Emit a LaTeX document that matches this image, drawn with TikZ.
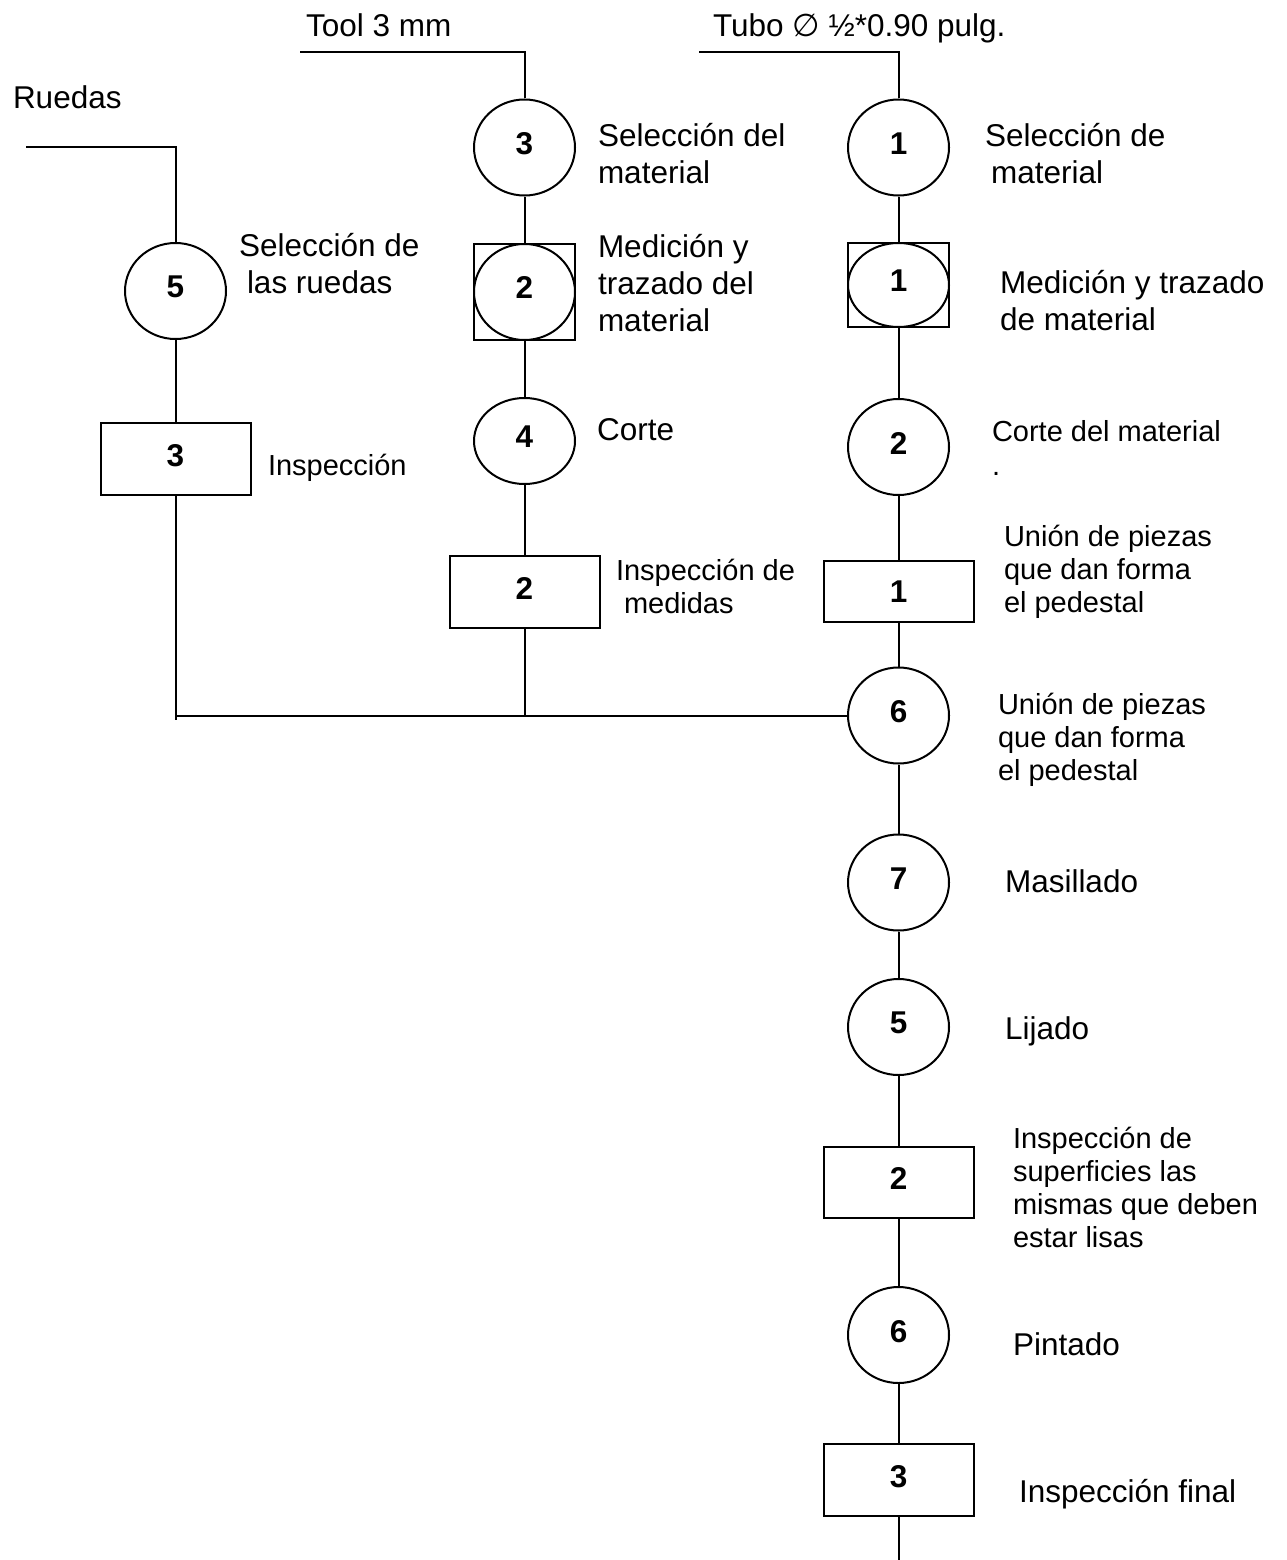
\documentclass[tikz,border=0pt]{standalone}
\usepackage{fontspec}
\setmainfont{Liberation Sans}
\newfontfamily\symfont{DejaVu Sans}
\usetikzlibrary{shapes.geometric}
\begin{document}
\begin{tikzpicture}[x=1pt,y=-1pt,line width=2pt,
  op/.style={ellipse,draw,minimum width=101pt,minimum height=96pt,inner sep=0pt,
    text depth=8pt,font=\fontsize{31.5}{36}\selectfont\bfseries},
  insp/.style={rectangle,draw,minimum width=150pt,minimum height=72pt,inner sep=0pt,
    text depth=8pt,font=\fontsize{31.5}{36}\selectfont\bfseries},
  frame/.style={rectangle,draw,minimum width=101pt,minimum height=96pt,inner sep=0pt},
  big/.style={anchor=base west,inner sep=0pt,align=left,font=\fontsize{31.5}{36.5}\selectfont},
  small/.style={anchor=base west,inner sep=0pt,align=left,font=\fontsize{29}{33}\selectfont}]
\fill[white] (0,0) rectangle (1287,1560);
\useasboundingbox (0,0) rectangle (1287,1560);

% --- wheels branch ---
\coordinate (r0) at (26,147);
\coordinate (r1) at (175.5,147);
\node[op] (c5a) at (175.5,291) {5};
\node[insp] (i3a) at (175.5,459) {3};
\coordinate (j1) at (175.5,715.5);
\coordinate (j1e) at (175.5,720);

% --- tool branch ---
\coordinate (t0) at (300,52);
\coordinate (t1) at (524.5,52);
\node[op] (c3b) at (524.5,147.5) {3};
\node[frame] (s2b) at (524.5,292) {};
\node[op] (c2b) at (524.5,292) {2};
\node[op,minimum height=86pt] (c4b) at (524.5,441) {4};
\node[insp] (i2b) at (524.5,592) {2};
\coordinate (j2) at (524.5,715.5);
\coordinate (j2e) at (524.5,717);

% --- tube branch (main line) ---
\coordinate (u0) at (699,52);
\coordinate (u1) at (898.5,52);
\node[op] (c1c) at (898.5,147.5) {1};
\node[frame,minimum height=84pt] (s1c) at (898.5,285) {};
\node[op,minimum height=84pt] (c1d) at (898.5,285) {1};
\node[op] (c2c) at (898.5,447) {2};
\node[insp,minimum height=61pt,text depth=0pt] (i1c) at (898.5,591.5) {1};
\node[op] (c6c) at (898.5,715.5) {6};
\node[op] (c7c) at (898.5,882.5) {7};
\node[op] (c5c) at (898.5,1027) {5};
\node[insp,minimum height=71pt] (i2c) at (898.5,1182.5) {2};
\node[op] (c6d) at (898.5,1335) {6};
\node[insp] (i3c) at (898.5,1480) {3};
\coordinate (fin) at (898.5,1560);

% connectors
\draw (r0) -- (r1) -- (c5a);
\draw (c5a) -- (i3a);
\draw (i3a) -- (j1e);
\draw (t0) -- (t1) -- (c3b);
\draw (c3b) -- (s2b);
\draw (s2b) -- (c4b);
\draw (c4b) -- (i2b);
\draw (i2b) -- (j2e);
\draw (j1) -- (c6c);
\draw (u0) -- (u1) -- (c1c);
\draw (c1c) -- (s1c);
\draw (s1c) -- (c2c);
\draw (c2c) -- (i1c);
\draw (i1c) -- (c6c);
\draw (c6c) -- (c7c);
\draw (c7c) -- (c5c);
\draw (c5c) -- (i2c);
\draw (i2c) -- (c6d);
\draw (c6d) -- (i3c);
\draw (i3c) -- (fin);

% labels (multi-line labels are placed by the baseline of their last line)
\node[big] (lruedas) at (12,109) {Ruedas};
\node[big] (ltool) at (305,37) {Tool 3 mm};
\node[big] (ltubo) at (712,37) {Tubo {\symfont ∅} ½*0.90 pulg.};
\node[big] (l5a) at (238,293) {Selección de\\\hspace*{8pt}las ruedas};
\node[small] (l3a) at (267,475) {Inspección};
\node[big] (l3b) at (597,183) {Selección del\\material};
\node[big,font=\fontsize{31.5}{37}\selectfont] (l2b) at (597,331) {Medición y\\trazado del\\material};
\node[big] (l4b) at (596,440) {Corte};
\node[small] (li2b) at (615,613) {Inspección de\\\hspace*{8pt}medidas};
\node[big] (l1c) at (984,183) {Selección de\\\hspace*{6pt}material};
\node[big] (l1d) at (999,330) {Medición y trazado\\de material};
\node[small,font=\fontsize{29}{34}\selectfont] (l2c) at (991,475) {Corte del material\\.};
\node[small] (li1c) at (1003,612) {Unión de piezas\\que dan forma\\el pedestal};
\node[small] (l6c) at (997,780) {Unión de piezas\\que dan forma\\el pedestal};
\node[big] (l7c) at (1004,892) {Masillado};
\node[big] (l5c) at (1004,1039) {Lijado};
\node[small] (li2c) at (1012,1247) {Inspección de\\superficies las\\mismas que deben\\estar lisas};
\node[big] (l6d) at (1012,1355) {Pintado};
\node[big] (li3c) at (1018,1502) {Inspección final};
\end{tikzpicture}
\end{document}
